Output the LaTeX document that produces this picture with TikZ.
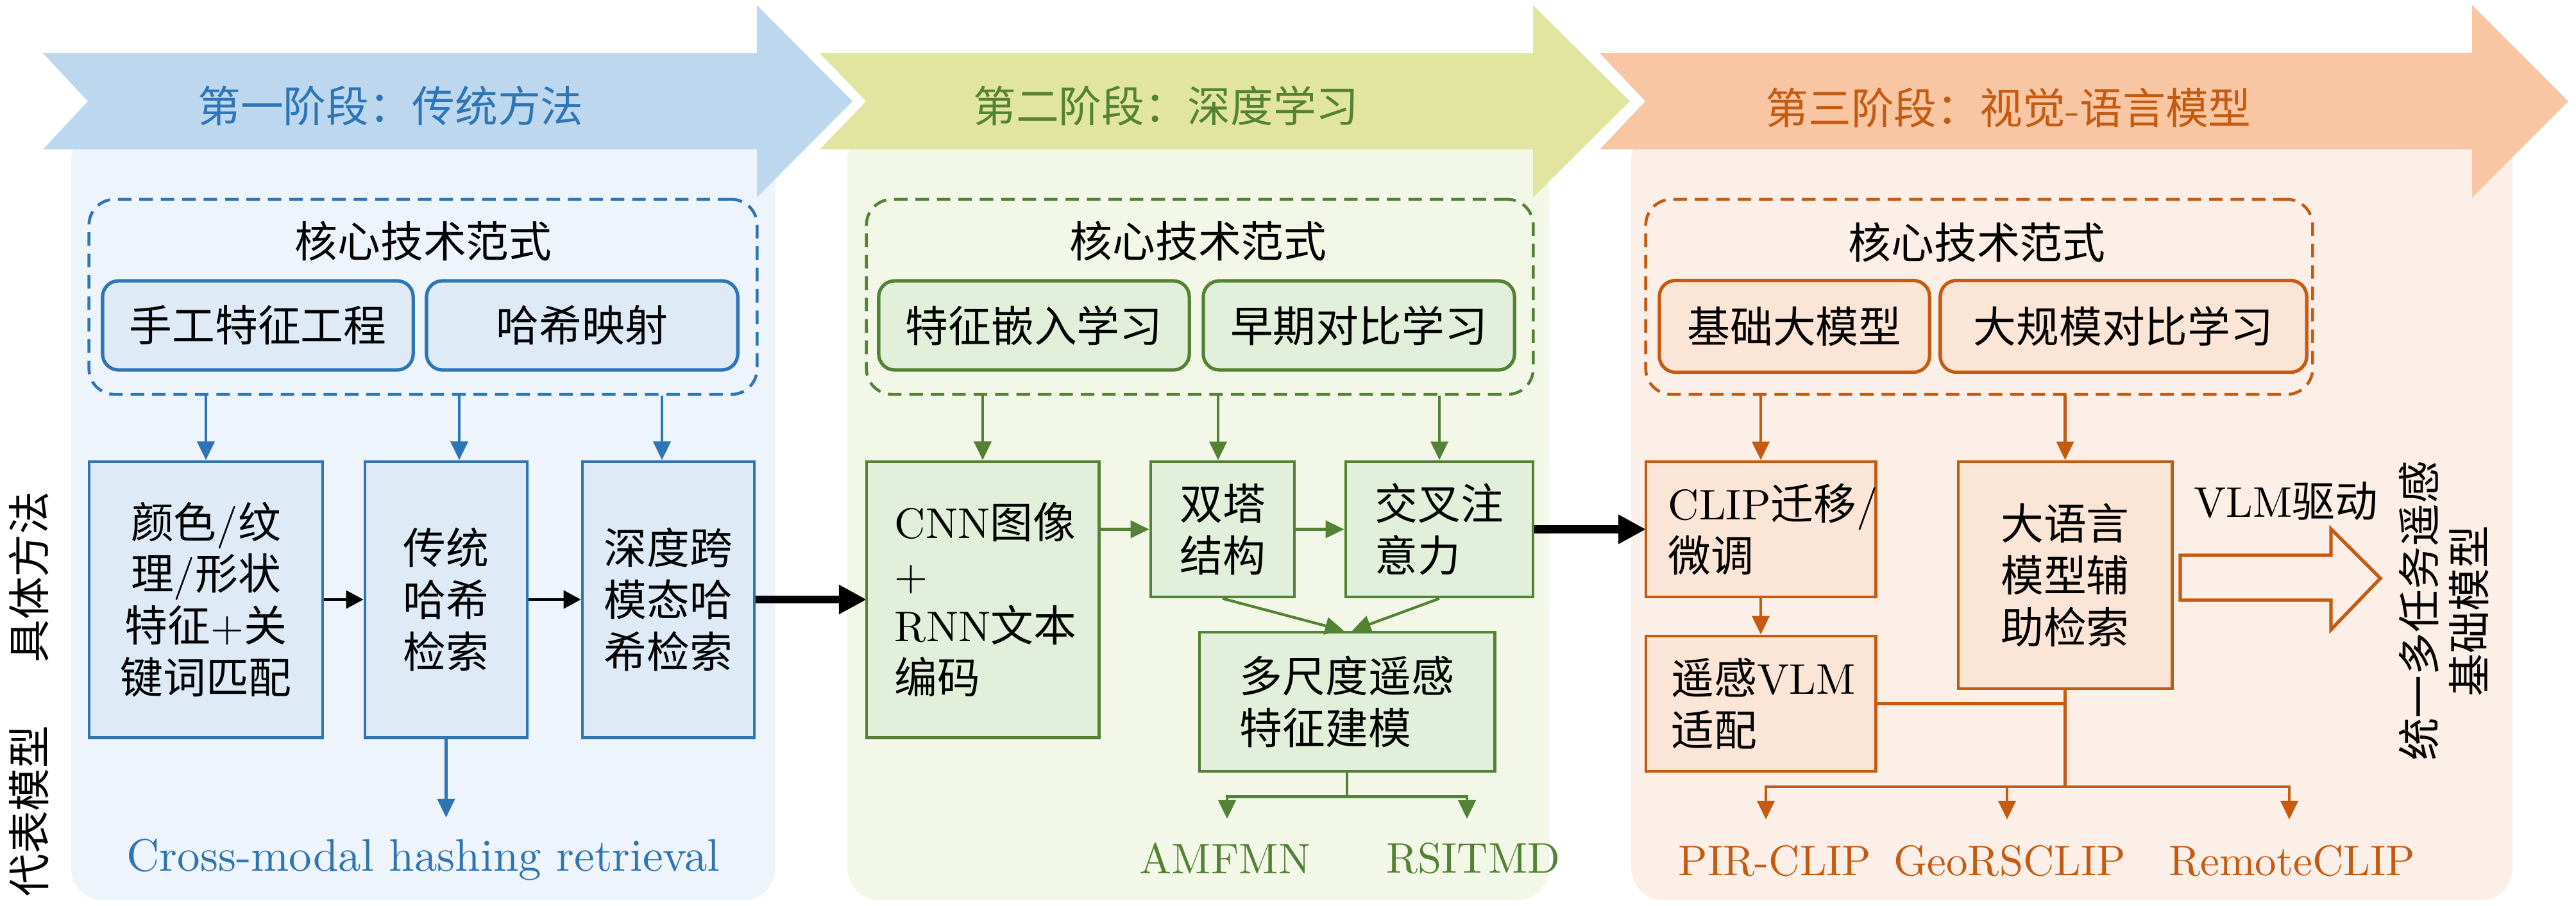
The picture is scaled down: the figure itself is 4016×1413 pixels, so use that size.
\documentclass[tikz,border=0pt]{standalone}
\usepackage{fontspec}
\setmainfont{lmroman10-regular}[Extension=.otf]
\newfontfamily\cjk{Noto Sans CJK SC}
\newcommand\zh[1]{{\cjk #1}}
\usetikzlibrary{arrows.meta,calc}
\definecolor{bArrow}{HTML}{BDD7EE}
\definecolor{bBg}{HTML}{EEF4FB}
\definecolor{bBox}{HTML}{DEEBF7}
\definecolor{bLine}{HTML}{2E75B6}
\definecolor{gArrow}{HTML}{E1E5A0}
\definecolor{gBg}{HTML}{F3F7E8}
\definecolor{gBox}{HTML}{E2EFDA}
\definecolor{gLine}{HTML}{548235}
\definecolor{oArrow}{HTML}{F8C6A2}
\definecolor{oBg}{HTML}{FBEFE7}
\definecolor{oBox}{HTML}{FBE5D6}
\definecolor{oLine}{HTML}{C55A11}
\begin{document}
\begin{tikzpicture}[x=0.01cm,y=-0.01cm,
  txt/.style={font=\fontsize{19}{23}\selectfont, inner sep=0pt},
  box/.style={draw, line width=1.35pt, rectangle, inner sep=0pt, font=\fontsize{19}{23}\selectfont, align=center},
  lbox/.style={box, align=left},
  rbox/.style={box, line width=1.5pt, rounded corners=0.25cm},
  dbox/.style={draw, line width=1.3pt, dash pattern=on 6pt off 3.5pt, rounded corners=0.4cm, inner sep=0pt},
  conn/.style={line width=1.2pt, -{Triangle[length=0.29cm,width=0.27cm]}},
  ln/.style={line width=1.2pt},
  blk/.style={line width=1.2pt, -{Triangle[length=0.27cm,width=0.28cm]}},
  bigblk/.style={line width=3.6pt, -{Triangle[length=0.43cm,width=0.43cm]}},
  lab/.style={txt}
]
\useasboundingbox (0,0) rectangle (4016,1413);
% panel backgrounds
\fill[bBg, rounded corners=0.5cm] (111,200) rectangle (1209,1404);
\fill[gBg, rounded corners=0.5cm] (1321,200) rectangle (2415,1404);
\fill[oBg, rounded corners=0.5cm] (2543,200) rectangle (3917,1404);
% stage arrows
\fill[bArrow] (67,83) -- (1180,83) -- (1180,8) -- (1329,158) -- (1180,308) -- (1180,233) -- (67,233) -- (137,158) -- cycle;
\fill[gArrow] (1278,83) -- (2390,83) -- (2390,8) -- (2541,158) -- (2390,308) -- (2390,233) -- (1278,233) -- (1350,158) -- cycle;
\fill[oArrow] (2494,83) -- (3854,83) -- (3854,8) -- (4004,158) -- (3854,308) -- (3854,233) -- (2494,233) -- (2565,158) -- cycle;
\node[txt, text=bLine] (s1) at (609,165) {\zh{第一阶段：传统方法}};
\node[txt, text=gLine] (s2) at (1818,165) {\zh{第二阶段：深度学习}};
\node[txt, text=oLine] (s3) at (3131,168) {\zh{第三阶段：视觉}-\zh{语言模型}};
% side labels
\node[txt, rotate=90] (l1) at (45,900) {\zh{具体方法}};
\node[txt, rotate=90] (l2) at (45,1265) {\zh{代表模型}};

% ---------- panel 1 ----------
\node[dbox, draw=bLine, minimum width=10.41cm, minimum height=3.04cm] (d1) at (659.5,463) {};
\node[txt] (k1) at (660,376) {\zh{核心技术范式}};
\node[rbox, draw=bLine, fill=bBox, minimum width=4.84cm, minimum height=1.39cm] (p1a) at (402,507.5) {\zh{手工特征工程}};
\node[rbox, draw=bLine, fill=bBox, minimum width=4.85cm, minimum height=1.39cm] (p1b) at (907.5,507.5) {\zh{哈希映射}};
\node[box, draw=bLine, fill=bBox, minimum width=3.64cm, minimum height=4.3cm] (m1a) at (321,935) {\zh{颜色}/\zh{纹}\\\zh{理}/\zh{形状}\\\zh{特征}+\zh{关}\\\zh{键词匹配}};
\node[box, draw=bLine, fill=bBox, minimum width=2.53cm, minimum height=4.3cm] (m1b) at (695.5,935) {\zh{传统}\\\zh{哈希}\\\zh{检索}};
\node[box, draw=bLine, fill=bBox, minimum width=2.68cm, minimum height=4.3cm] (m1c) at (1042,935) {\zh{深度跨}\\\zh{模态哈}\\\zh{希检索}};
\node[lab, text=bLine, font=\fontsize{20.2}{24}\selectfont] (r1) at (660,1341) {Cross-modal hashing retrieval};
\coordinate (x1b) at (716,0);
\coordinate (x1c) at (1032,0);
\coordinate (e1) at (695,1275);
\draw[conn, bLine] (d1.south -| m1a.north) -- (m1a.north);
\draw[conn, bLine] (d1.south -| x1b) -- (m1b.north -| x1b);
\draw[conn, bLine] (d1.south -| x1c) -- (m1c.north -| x1c);
\draw[blk] (m1a.east) -- (m1b.west);
\draw[blk] (m1b.east) -- (m1c.west);
\draw[conn, bLine] (m1b.south) -- (m1b.south |- e1);
\draw[bigblk] (m1c.east) -- (1351,935);

% ---------- panel 2 ----------
\node[dbox, draw=gLine, minimum width=10.39cm, minimum height=3.04cm] (d2) at (1870.5,463) {};
\node[txt] (k2) at (1868,376) {\zh{核心技术范式}};
\node[rbox, draw=gLine, fill=gBox, minimum width=4.84cm, minimum height=1.39cm] (p2a) at (1612,507.5) {\zh{特征嵌入学习}};
\node[rbox, draw=gLine, fill=gBox, minimum width=4.85cm, minimum height=1.39cm] (p2b) at (2118.5,507.5) {\zh{早期对比学习}};
\node[lbox, draw=gLine, fill=gBox, minimum width=3.62cm, minimum height=4.3cm, text width=2.74cm, inner xsep=0.44cm] (m2a) at (1532,935) {CNN\zh{图像}\\+\\RNN\zh{文本}\\\zh{编码}};
\node[box, draw=gLine, fill=gBox, minimum width=2.24cm, minimum height=2.11cm] (m2b) at (1906,825.5) {\zh{双塔}\\\zh{结构}};
\node[lbox, draw=gLine, fill=gBox, minimum width=2.92cm, minimum height=2.11cm, text width=2.0cm, inner xsep=0.46cm] (m2c) at (2244,825.5) {\zh{交叉注}\\\zh{意力}};
\node[lbox, draw=gLine, fill=gBox, minimum width=4.6cm, minimum height=2.17cm, text width=3.34cm, inner xsep=0.63cm] (m2d) at (2100,1094.5) {\zh{多尺度遥感}\\\zh{特征建模}};
\node[lab, text=gLine] (r2a) at (1910,1339) {AMFMN};
\node[lab, text=gLine] (r2b) at (2297,1339) {RSITMD};
\coordinate (x2b) at (1899,0);
\coordinate (a2l) at (1913,1277);
\coordinate (a2r) at (2287,1277);
\draw[conn, gLine] (d2.south -| m2a.north) -- (m2a.north);
\draw[conn, gLine] (d2.south -| x2b) -- (m2b.north -| x2b);
\draw[conn, gLine] (d2.south -| m2c.north) -- (m2c.north);
\draw[conn, gLine] (m2a.east |- m2b.west) -- (m2b.west);
\draw[conn, gLine] (m2b.east) -- (m2c.west);
\draw[conn, gLine] (m2b.south) -- ($(m2d.north)+(-5,0)$);
\draw[conn, gLine] (m2c.south) -- ($(m2d.north)+(8,0)$);
\draw[conn, gLine] (m2d.south) -- ++(0,37) -| (a2l);
\draw[conn, gLine] (m2d.south) -- ++(0,37) -| (a2r);
\draw[bigblk] (m2c.east) -- (2566,825.5);

% ---------- panel 3 ----------
\node[dbox, draw=oLine, minimum width=10.39cm, minimum height=3.04cm] (d3) at (3085.5,463) {};
\node[txt] (k3) at (3082,378) {\zh{核心技术范式}};
\node[rbox, draw=oLine, fill=oBox, minimum width=4.21cm, minimum height=1.43cm] (p3a) at (2797.5,509) {\zh{基础大模型}};
\node[rbox, draw=oLine, fill=oBox, minimum width=5.71cm, minimum height=1.43cm] (p3b) at (3310.5,509) {\zh{大规模对比学习}};
\node[lbox, draw=oLine, fill=oBox, minimum width=3.58cm, minimum height=2.11cm, text width=2.88cm, inner xsep=0.35cm] (m3a) at (2745,825.5) {CLIP\zh{迁移}/\\\zh{微调}};
\node[lbox, draw=oLine, fill=oBox, minimum width=3.58cm, minimum height=2.11cm, text width=2.78cm, inner xsep=0.4cm] (m3b) at (2745,1097.5) {\zh{遥感}VLM\\\zh{适配}};
\node[box, draw=oLine, fill=oBox, minimum width=3.33cm, minimum height=3.54cm] (m3c) at (3219.5,897) {\zh{大语言}\\\zh{模型辅}\\\zh{助检索}};
\node[lab, text=oLine] (r3a) at (2767,1343) {PIR-CLIP};
\node[lab, text=oLine] (r3b) at (3133,1343) {GeoRSCLIP};
\node[lab, text=oLine] (r3c) at (3573,1343) {RemoteCLIP};
\node[txt] (vd) at (3564,782) {VLM\zh{驱动}};
\node[txt, rotate=90, align=center, font=\fontsize{19}{22}\selectfont] (goal) at (3810,953) {\zh{统一多任务遥感}\\\zh{基础模型}};
\coordinate (j3) at (3220,1227);
\coordinate (b3a) at (2753,1278);
\coordinate (b3b) at (3129,1278);
\coordinate (b3c) at (3569,1278);
\draw[conn, oLine] (d3.south -| m3a.north) -- (m3a.north);
\draw[conn, oLine] (d3.south -| m3c.north) -- (m3c.north);
\draw[conn, oLine] (m3a.south) -- (m3b.north);
\draw[ln, oLine] (m3c.south) -- (m3c.south |- j3);
\draw[ln, oLine] (m3b.east) -- (m3b.east -| m3c.south);
\draw[conn, oLine] (m3c.south |- j3) -| (b3a);
\draw[conn, oLine] (m3c.south |- j3) -| (b3b);
\draw[conn, oLine] (m3c.south |- j3) -| (b3c);
\draw[oLine, line width=1.5pt] (3399,866) -- (3634,866) -- (3634,825) -- (3711,902) -- (3634,982) -- (3634,936) -- (3399,936) -- cycle;
\end{tikzpicture}
\end{document}
